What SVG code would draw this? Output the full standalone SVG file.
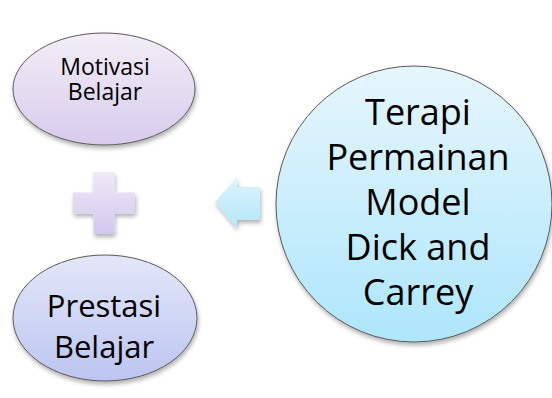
<svg xmlns="http://www.w3.org/2000/svg" width="552" height="398" viewBox="0 0 552 398">
<defs>
<linearGradient id="gTop" x1="0" y1="0" x2="0" y2="1"><stop offset="0" stop-color="#f3eef8"/><stop offset="1" stop-color="#d8cbec"/></linearGradient>
<linearGradient id="gBot" x1="0" y1="0" x2="0" y2="1"><stop offset="0" stop-color="#e4e7f9"/><stop offset="1" stop-color="#bcc5f1"/></linearGradient>
<linearGradient id="gBig" x1="0" y1="0" x2="0" y2="1"><stop offset="0" stop-color="#e6f6fd"/><stop offset="1" stop-color="#aee6fb"/></linearGradient>
<linearGradient id="gPlus" x1="0" y1="0" x2="0" y2="1"><stop offset="0" stop-color="#efeaf8"/><stop offset="1" stop-color="#d3c7ee"/></linearGradient>
<linearGradient id="gArrow" x1="0" y1="0" x2="0" y2="1"><stop offset="0" stop-color="#ddf4fc"/><stop offset="1" stop-color="#b4e7fa"/></linearGradient>
<filter id="sh" x="-20%" y="-20%" width="140%" height="150%"><feDropShadow dx="1" dy="3" stdDeviation="2" flood-color="#000" flood-opacity="0.3"/></filter>
</defs>
<style>
.node{stroke:#5a5a5a;stroke-width:1}
.t{font-family:"Open Sans","Liberation Sans",sans-serif;fill:#000;text-anchor:middle}
</style>
<g id="motivasi">
<ellipse class="node" cx="104" cy="89" rx="91" ry="56" fill="url(#gTop)" filter="url(#sh)"/>
<text class="t" font-size="23" x="105" y="75">Motivasi</text>
<text class="t" font-size="23" x="105" y="100">Belajar</text>
</g>
<g id="prestasi">
<ellipse class="node" cx="105" cy="318" rx="92" ry="63" fill="url(#gBot)" filter="url(#sh)"/>
<text class="t" font-size="31" x="104" y="317">Prestasi</text>
<text class="t" font-size="31" x="104" y="358">Belajar</text>
</g>
<g id="terapi">
<circle class="node" cx="414" cy="204" r="138" fill="url(#gBig)" filter="url(#sh)"/>
<text class="t" font-size="36" x="418" y="125">Terapi</text>
<text class="t" font-size="36" x="418" y="170">Permainan</text>
<text class="t" font-size="36" x="418" y="215">Model</text>
<text class="t" font-size="36" x="418" y="260">Dick and</text>
<text class="t" font-size="36" x="418" y="305">Carrey</text>
</g>
<g id="connectors">
<path d="M93.5,172 H114.5 V192.5 H135 V213.5 H114.5 V234 H93.5 V213.5 H73 V192.5 H93.5 Z" fill="url(#gPlus)" filter="url(#sh)"/>
<path d="M215,202 L237,177 V187 H260 V220 H237 V228 Z" fill="url(#gArrow)" filter="url(#sh)"/>
</g>
</svg>
